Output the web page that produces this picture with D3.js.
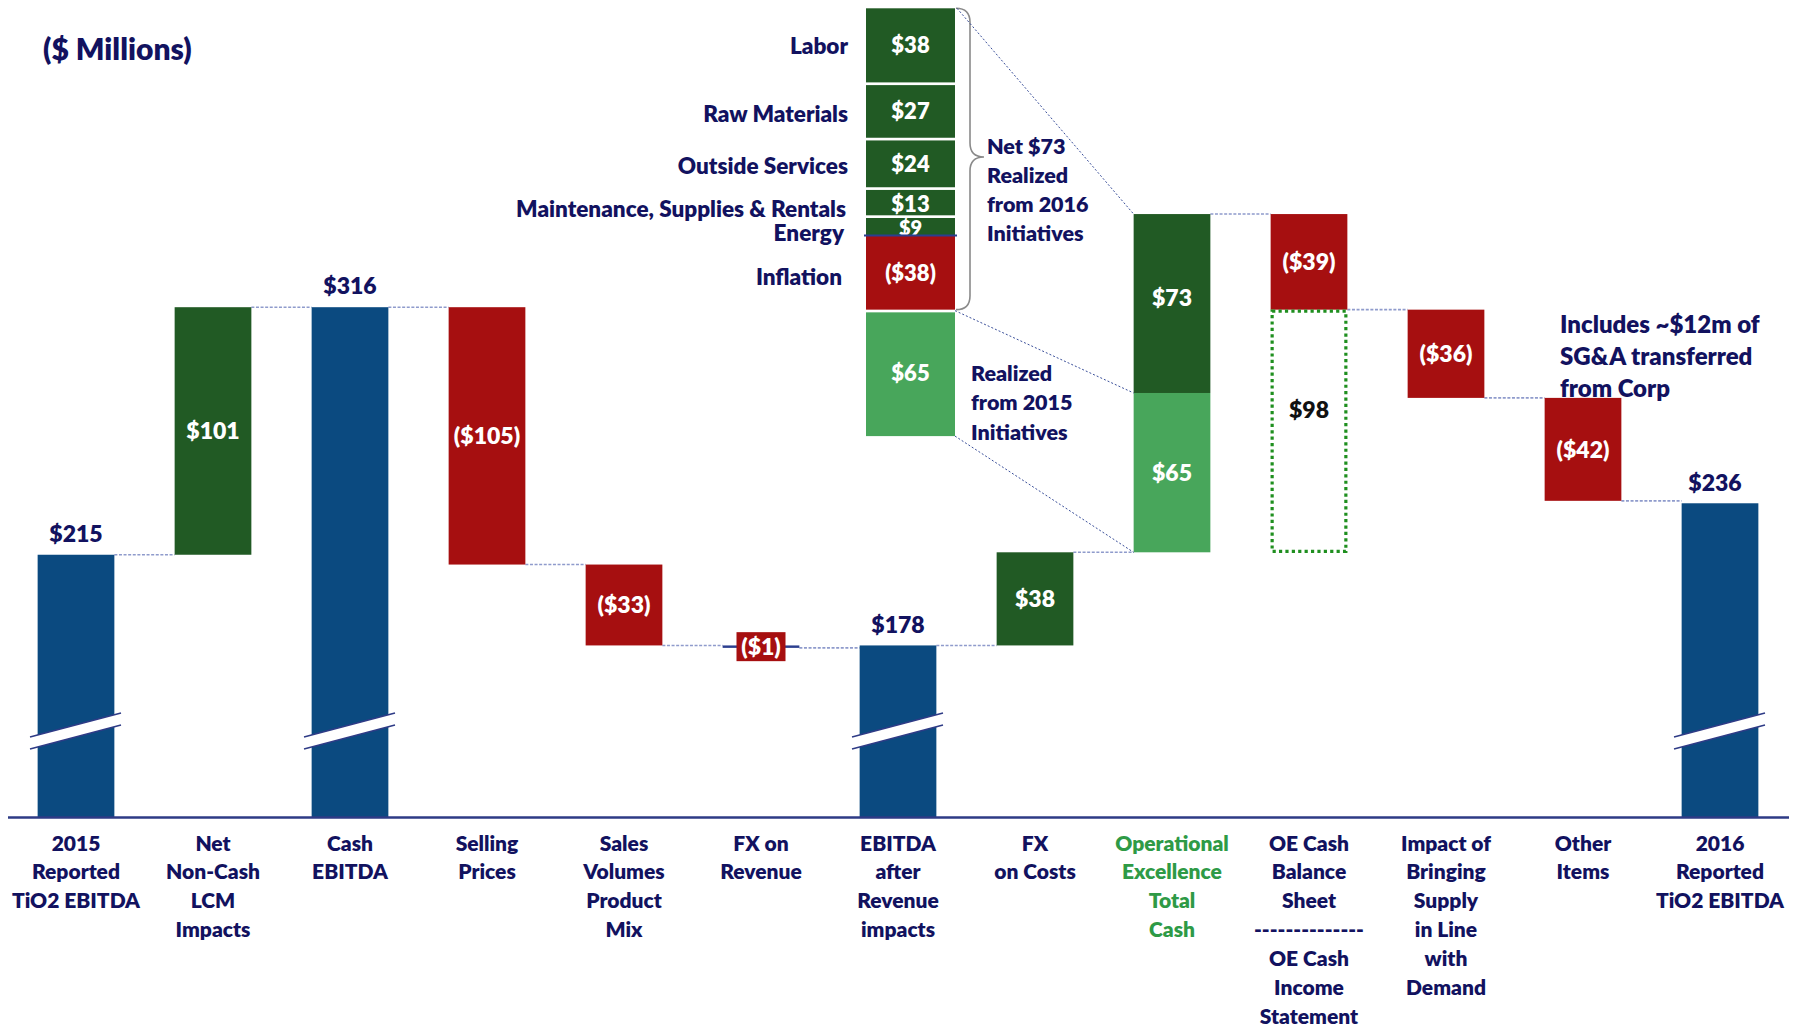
<!DOCTYPE html>
<html><head><meta charset="utf-8">
<script src="https://cdn.jsdelivr.net/npm/d3@7/dist/d3.min.js"></script>
<style>
body{margin:0;background:#fff;}
svg{display:block;font-family:Lato,'Open Sans',sans-serif;font-weight:800;}
</style></head><body>
<svg id="chart" width="1804" height="1027"></svg>
<script>
// ---------------- data ----------------
const categoryLines = [
  ["2015","Reported","TiO2 EBITDA"],
  ["Net","Non-Cash","LCM","Impacts"],
  ["Cash","EBITDA"],
  ["Selling","Prices"],
  ["Sales","Volumes","Product","Mix"],
  ["FX on","Revenue"],
  ["EBITDA","after","Revenue","impacts"],
  ["FX","on Costs"],
  ["Operational","Excellence","Total","Cash"],
  ["OE Cash","Balance","Sheet","--------------","OE Cash","Income","Statement"],
  ["Impact of","Bringing","Supply","in Line","with","Demand"],
  ["Other","Items"],
  ["2016","Reported","TiO2 EBITDA"]
];
const barValues = [215, 101, 316, -105, -33, -1, 178, 38, 138, -39, -36, -42, 236];
const barTypes  = ["total","delta","total","delta","delta","delta","total","delta","oe","delta","delta","delta","total"];
const oeSplitValues = [65, 73];          // realized from 2015 initiatives, net realized from 2016 initiatives
const oeSplitLabels = ["$65", "$73"];
const oeBalanceSheetCash = 98;
const detailLabels = ["Labor","Raw Materials","Outside Services","Maintenance, Supplies & Rentals","Energy","Inflation"];
const detailValues = [38, 27, 24, 13, 9, -38];
const detail2015Value = 65;
const netText = ["Net $73","Realized","from 2016","Initiatives"];
const realized2015Text = ["Realized","from 2015","Initiatives"];
const noteText = ["Includes ~$12m of","SG&A transferred","from Corp"];

// ---------------- style ----------------
const C = {
  blue:"#0b4a80", dgreen:"#215a24", lgreen:"#48a65b", red:"#a60f10",
  navy:"#12125f", axis:"#2e3b86", conn:"#8f9bcc", green:"#2e9a46", dot:"#1f8f1f"
};
const fmt = v => v < 0 ? "($" + (-v) + ")" : "$" + v;
const W = 1804, H = 1027, baseY = 817;
const svg = d3.select("#chart");

const x = d3.scaleBand().domain(d3.range(categoryLines.length))
  .range([7.5, 1788.5]).paddingInner(0.44).paddingOuter(0.22);
const bw = x.bandwidth();
const y = d3.scaleLinear().domain([108, 316]).range([baseY, 307.2]);

// text helper: y = visual center of caps
function txt(g, s, cx, cy, fs, fill, anchor) {
  return g.append("text").attr("x", cx).attr("y", cy + fs*0.36)
    .attr("font-size", fs).attr("fill", fill).attr("text-anchor", anchor || "middle").text(s);
}

// ---------------- waterfall geometry ----------------
let running = 0;
const bars = barValues.map((v, i) => {
  let start, end;
  if (barTypes[i] === "total") { start = y.domain()[0]; end = v; running = v; }
  else { start = running; end = running + v; running = end; }
  return {i, v, type: barTypes[i], start, end};
});

const gConn = svg.append("g");
const gBars = svg.append("g");
const gLab = svg.append("g");

// connectors
for (let i = 0; i < bars.length - 1; i++) {
  const lvl = bars[i].end;
  gConn.append("line").attr("x1", x(i) + bw).attr("x2", x(i+1))
    .attr("y1", y(lvl)).attr("y2", y(lvl))
    .attr("stroke", C.conn).attr("stroke-width", 1.6).attr("stroke-dasharray", "3,1.6");
}

bars.forEach(b => {
  const cx = x(b.i) + bw/2;
  if (b.type === "total") {
    gBars.append("rect").attr("x", x(b.i)).attr("width", bw)
      .attr("y", y(b.end)).attr("height", y(b.start) - y(b.end)).attr("fill", C.blue);
    txt(gLab, fmt(b.v), cx - (b.i === 12 ? 5 : 0), y(b.end) - 21, 23, C.navy);
    // axis-break mark
    const y0 = baseY - 80;
    const pts = [[cx-46, y0], [cx+45, y0-24], [cx+45, y0-12], [cx-46, y0+12]];
    gBars.append("polygon").attr("points", pts.map(p => p.join(",")).join(" ")).attr("fill", "#fff");
    gBars.append("line").attr("x1", pts[0][0]).attr("y1", pts[0][1]).attr("x2", pts[1][0]).attr("y2", pts[1][1])
      .attr("stroke", C.axis).attr("stroke-width", 1.5);
    gBars.append("line").attr("x1", pts[3][0]).attr("y1", pts[3][1]).attr("x2", pts[2][0]).attr("y2", pts[2][1])
      .attr("stroke", C.axis).attr("stroke-width", 1.5);
  } else if (b.type === "oe") {
    let lvl = b.start;
    oeSplitValues.forEach((v, k) => {
      gBars.append("rect").attr("x", x(b.i)).attr("width", bw)
        .attr("y", y(lvl + v)).attr("height", y(lvl) - y(lvl + v))
        .attr("fill", k === 0 ? C.lgreen : C.dgreen);
      txt(gLab, oeSplitLabels[k], cx, (y(lvl) + y(lvl + v))/2 + (k === 1 ? -6 : 0), 23, "#fff");
      lvl += v;
    });
  } else {
    const top = Math.max(b.start, b.end), bot = Math.min(b.start, b.end);
    const small = Math.abs(b.v) < 3;
    gBars.append("rect").attr("x", x(b.i)).attr("width", bw)
      .attr("y", y(top)).attr("height", Math.max(2.4, y(bot) - y(top)))
      .attr("fill", small ? "#2b3f8f" : (b.v > 0 ? C.dgreen : C.red));
    const cy = (y(top) + y(bot))/2;
    if (small) {
      gLab.append("rect").attr("x", cx - 24.5).attr("y", cy - 14.5).attr("width", 49).attr("height", 29).attr("fill", C.red);
    }
    txt(gLab, fmt(b.v), cx, cy, 23, "#fff");
    if (b.i === 9) {
      // OE cash balance sheet: dotted outline box down to the OE bar base
      const t = b.end, bt = b.end - oeBalanceSheetCash;
      gBars.append("rect").attr("x", x(b.i) + 1.5).attr("width", bw - 3)
        .attr("y", y(t) + 1.5).attr("height", y(bt) - y(t))
        .attr("fill", "none").attr("stroke", C.dot).attr("stroke-width", 3.2).attr("stroke-dasharray", "3.2,3.2");
      txt(gLab, fmt(oeBalanceSheetCash), cx, (y(t) + y(bt))/2 - 20, 23, "#111");
    }
  }
});

// axis
const axis = svg.append("g").attr("transform", `translate(0,${baseY})`)
  .call(d3.axisBottom(x).tickSize(0).tickFormat(""));
axis.select(".domain").attr("stroke", C.axis).attr("stroke-width", 2.5);

categoryLines.forEach((lines, i) => {
  const cx = x(i) + bw/2;
  lines.forEach((s, k) => txt(svg, s, cx, 843 + k*28.9, 21, i === 8 ? C.green : C.navy));
});

// ---------------- detail breakdown ----------------
const DL = 866, DW = 89, DTOP = 8.3, GAP = 2.7;
const dTotal = d3.sum(detailValues, Math.abs) + detail2015Value;
const yd = d3.scaleLinear().domain([0, dTotal]).range([0, dTotal * 1.95]);
const gD = svg.append("g");
let cum = 0;
const labelNudge = [1, 2, 2, 6, 6, 4];
detailValues.forEach((v, k) => {
  const gapOff = Math.min(k, 5) * GAP - (k === 5 ? GAP : 0);
  const top = DTOP + yd(cum) + gapOff;
  const h = yd(Math.abs(v));
  gD.append("rect").attr("x", DL).attr("width", DW).attr("y", top).attr("height", h)
    .attr("fill", v < 0 ? C.red : C.dgreen);
  txt(gD, fmt(v), DL + DW/2, top + h/2 + (k === 3 ? 1 : (k === 4 ? 1 : 0)), k === 4 ? 20 : 22, "#fff");
  txt(gD, detailLabels[k], 848 - (k >= 3 ? (k-2)*2 : 0), top + h/2 + labelNudge[k], 22.5, C.navy, "end");
  cum += Math.abs(v);
});
const energyBottom = DTOP + yd(d3.sum(detailValues.slice(0,5))) + 4*GAP;
gD.append("line").attr("x1", DL - 2).attr("x2", DL + DW + 2).attr("y1", energyBottom).attr("y2", energyBottom)
  .attr("stroke", "#2b3f8f").attr("stroke-width", 2);
const inflBottom = DTOP + yd(cum) + 4*GAP;
const t65 = inflBottom + GAP;
const h65 = yd(detail2015Value) - 3;
gD.append("rect").attr("x", DL).attr("width", DW).attr("y", t65).attr("height", h65).attr("fill", C.lgreen);
txt(gD, fmt(detail2015Value), DL + DW/2, t65 + h65/2 - 1, 22, "#fff");

// brace
const bx = DL + DW + 1, bxm = bx + 14, bxt = bx + 28, bTop = DTOP, bBot = inflBottom, bMid = 157;
gD.append("path").attr("d",
  `M${bx},${bTop} Q${bxm},${bTop} ${bxm},${bTop+14} L${bxm},${bMid-14} Q${bxm},${bMid} ${bxt},${bMid}` +
  ` Q${bxm},${bMid} ${bxm},${bMid+14} L${bxm},${bBot-14} Q${bxm},${bBot} ${bx},${bBot}`)
  .attr("fill", "none").attr("stroke", "#8a8a8a").attr("stroke-width", 1.6);
netText.forEach((s, k) => txt(gD, s, 987, 146 + k*29, 21.5, C.navy, "start"));
realized2015Text.forEach((s, k) => txt(gD, s, 971, 373 + k*29.5, 21.5, C.navy, "start"));

// zoom lines to OE bar
const oeL = x(8);
const oeB = bars[8];
const zl = [
  [DL + DW + 2, DTOP, oeL, y(oeB.end)],
  [DL + DW, inflBottom + 1, oeL, y(oeB.start + oeSplitValues[0])],
  [DL + DW, t65 + h65, oeL, y(oeB.start)]
];
zl.forEach(l => gD.append("line").attr("x1", l[0]).attr("y1", l[1]).attr("x2", l[2]).attr("y2", l[3])
  .attr("stroke", "#3a4f9a").attr("stroke-width", 1).attr("stroke-dasharray", "2,2"));

// title and note
txt(svg, "($ Millions)", 43, 49, 30, C.navy, "start");
noteText.forEach((s, k) => txt(svg, s, 1560, 324 + k*32.2, 24, C.navy, "start"));
</script>
</body></html>
